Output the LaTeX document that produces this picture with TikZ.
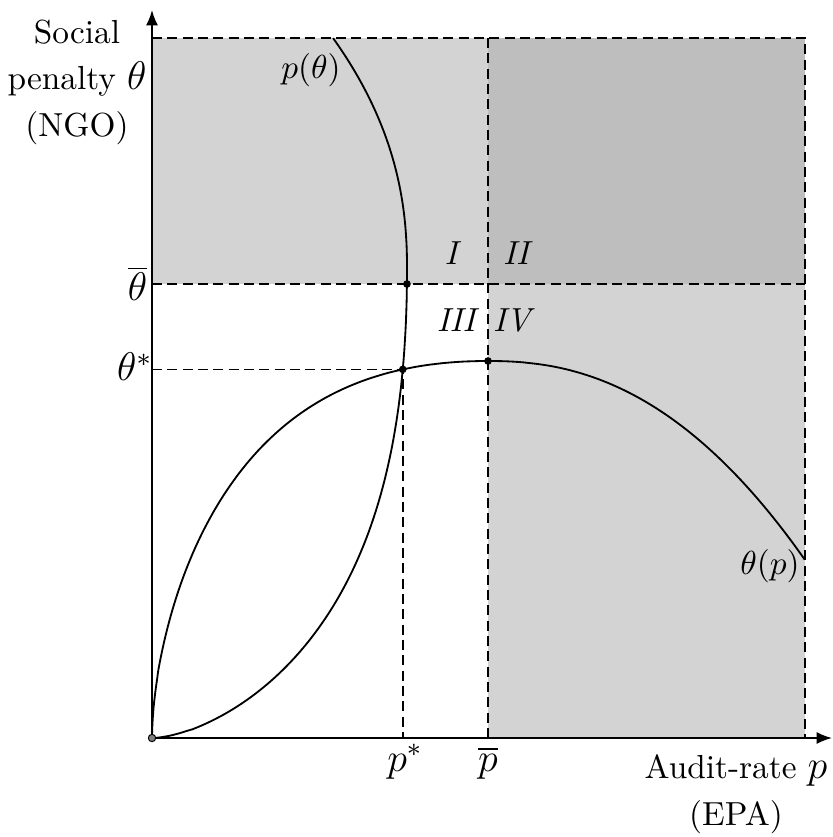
\documentclass[tikz,border=0pt]{standalone}
\usetikzlibrary{arrows.meta,intersections}
\definecolor{lightfill}{RGB}{211,211,211}
\definecolor{darkfill}{RGB}{190,190,190}
\begin{document}
\begin{tikzpicture}[x=0.3pt,y=-0.3pt,
  guide/.style={dash pattern=on 3pt off 1.6pt, line width=0.5pt},
  curve/.style={line width=0.55pt},
  axis/.style={line width=0.55pt, -{Latex[length=4.6pt,width=3.6pt]}},
  lbl/.style={inner sep=0pt, font=\fontsize{10}{14}\selectfont},
  tick/.style={inner sep=0pt, font=\fontsize{11.5}{14}\selectfont},
  dot/.style={circle, fill=black, inner sep=0pt, minimum size=2.3pt}]
\useasboundingbox (0,0) rectangle (832,837);
% coordinates
\coordinate (O) at (152,738);
\coordinate (TL) at (152,38);
\coordinate (TR) at (805,38);
\coordinate (BR) at (805,738);
\coordinate (TM) at (488,38);
\coordinate (BM) at (488,738);
\coordinate (LB) at (152,284);
\coordinate (RB) at (805,284);
\coordinate (MB) at (488,284);
\coordinate (Pk) at (488,361);
\coordinate (Ytip) at (152,10);
\coordinate (Xtip) at (832,738);
% shaded regions
\fill[lightfill] (TL) rectangle (RB);
\fill[darkfill] (TM) rectangle (RB);
\fill[lightfill] (MB) rectangle (BR);
% curve theta(p)
\draw[curve] (O) -- plot[domain=0.001:1, samples=90, variable=\t] ({152+336*\t*\t}, {738-377*exp(0.58*(2*ln(\t)+1-\t*\t))})
  -- plot[domain=0.01:1, samples=60, variable=\s] ({488+317*\s}, {361+199*(\s^2.27)});
% curve p(theta)
\draw[curve] (O) -- plot[domain=0.001:1, samples=90, variable=\t] ({152+255*exp(0.62*(2*ln(\t)+1-\t*\t))}, {738-470*\t*\t})
  -- plot[domain=0.01:1, samples=60, variable=\s] ({407-74*(\s^2.22)}, {268-230*\s});
% helper paths for intersections
\path[name path=tpA] plot[domain=0.5:1, samples=80, variable=\t] ({152+336*\t*\t}, {738-377*exp(0.58*(2*ln(\t)+1-\t*\t))});
\path[name path=ptA] plot[domain=0.6:1, samples=80, variable=\t] ({152+255*exp(0.62*(2*ln(\t)+1-\t*\t))}, {738-470*\t*\t});
\path[name path=barline] (LB) -- (RB);
\path[name intersections={of=tpA and ptA, by=S}];
\path[name intersections={of=ptA and barline, by=Bb}];
% dashed guides
\draw[guide] (TL) -- (TR) -- (BR);
\draw[guide] (TM) -- (BM);
\draw[guide] (LB) -- (RB);
\draw[guide] (S -| O) -- (S) -- (S |- O);
% dots
\node[dot] (Sdot) at (S) {};
\node[dot] (Bdot) at (Bb) {};
\node[dot] (Pdot) at (Pk) {};
% axes
\draw[axis] (O) -- (Ytip);
\draw[axis] (O) -- (Xtip);
\node[circle, draw, fill=gray, inner sep=0pt, minimum size=2.2pt, line width=0.3pt] (origin) at (O) {};
% labels
\node[lbl, align=center, anchor=north] (ylab) at (77,19) {Social\\penalty {\fontsize{11.5}{14}\selectfont$\theta$}\\(NGO)};
\node[lbl, align=center, anchor=north] (xlab) at (736,754) {Audit-rate {\fontsize{11.5}{14}\selectfont$p$}\\(EPA)};
\node[tick, anchor=base east] (thbar) at (148,301) {$\overline{\theta}$};
\node[tick, anchor=base east] (thstar) at (153,381) {$\theta^{*}$};
\node[tick, anchor=base] (pstar) at (405,771) {$p^{*}$};
\node[tick, anchor=base] (pbar) at (488,771) {$\overline{p}$};
\node[lbl] (ptheta) at (311,70) {$p(\theta)$};
\node[lbl] (thetap) at (770,566) {$\theta(p)$};
\node[lbl] (r1) at (453,253) {\textit{I}};
\node[lbl] (r2) at (518,253) {\textit{II}};
\node[lbl] (r3) at (458,320) {\textit{III}};
\node[lbl] (r4) at (514,320) {\textit{IV}};
\end{tikzpicture}
\end{document}
